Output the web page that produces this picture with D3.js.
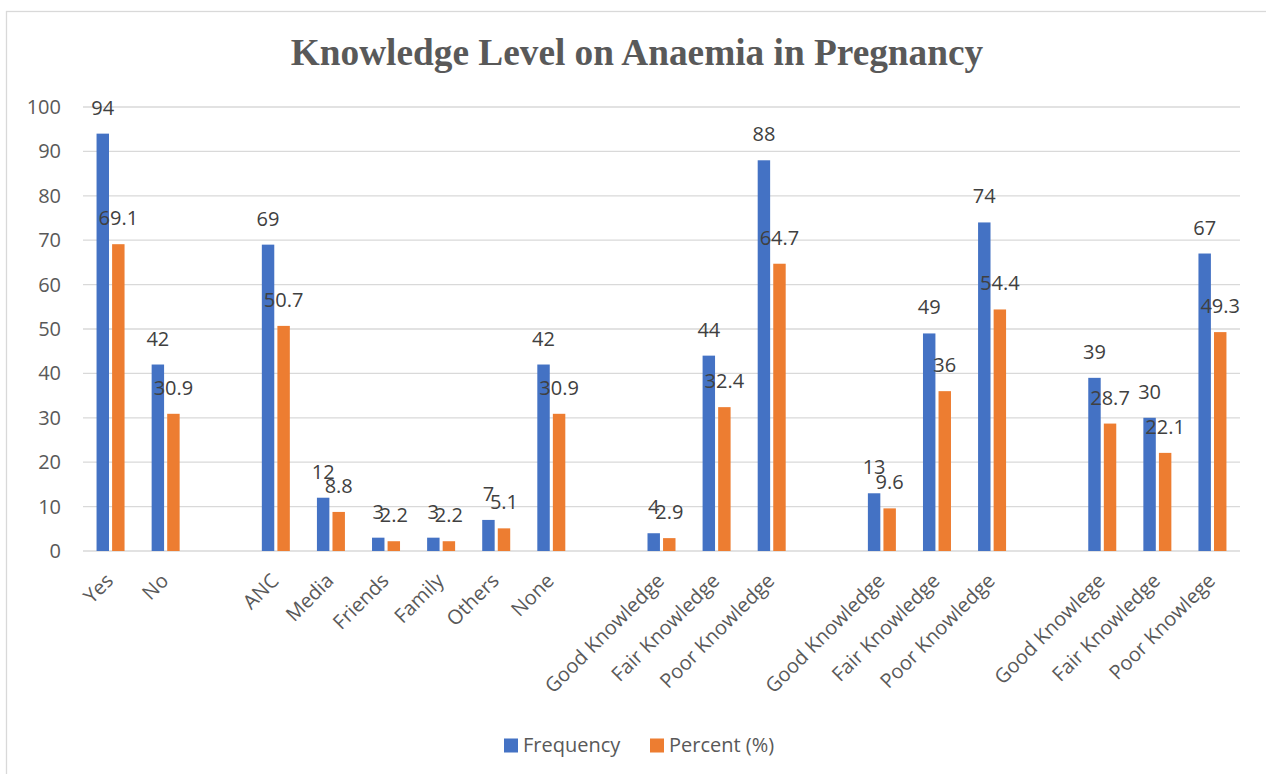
<!DOCTYPE html>
<html>
<head>
<meta charset="utf-8">
<style>
body { margin: 0; background: #fff; }
.grid line { stroke: #d9d9d9; stroke-width: 1.3; }
.tick text { font-family: "Open Sans", sans-serif; font-size: 20px; fill: #595959; }
.lbl { font-family: "Open Sans", sans-serif; font-size: 20px; fill: #404040; text-anchor: middle; }
.legend text { font-family: "Open Sans", sans-serif; font-size: 20px; fill: #595959; }
</style>
</head>
<body>
<svg width="1266" height="774"></svg>
<script src="https://d3js.org/d3.v7.min.js"></script>
<script>
// categories, null = empty slot between groups
var categories = ["Yes", "No", null,
  "ANC", "Media", "Friends", "Family", "Others", "None", null,
  "Good Knowledge", "Fair Knowledge", "Poor Knowledge", null,
  "Good Knowledge", "Fair Knowledge", "Poor Knowledge", null,
  "Good Knowlege", "Fair Knowledge", "Poor Knowlege"];
var frequency = [94, 42, null, 69, 12, 3, 3, 7, 42, null, 4, 44, 88, null, 13, 49, 74, null, 39, 30, 67];
var percent = [69.1, 30.9, null, 50.7, 8.8, 2.2, 2.2, 5.1, 30.9, null, 2.9, 32.4, 64.7, null, 9.6, 36, 54.4, null, 28.7, 22.1, 49.3];
var seriesNames = ["Frequency", "Percent (%)"];
var colors = ["#4472C4", "#ED7D31"];
var yTicks = [0, 10, 20, 30, 40, 50, 60, 70, 80, 90, 100];

var svg = d3.select("svg");

// chart border
svg.append("rect")
    .attr("x", 6.5).attr("y", 11.5)
    .attr("width", 1280).attr("height", 800)
    .attr("fill", "#fff")
    .attr("stroke", "#d9d9d9").attr("stroke-width", 1.3);

svg.append("text")
    .attr("x", 637).attr("y", 65)
    .attr("text-anchor", "middle")
    .attr("font-family", "Liberation Serif, Times New Roman, serif")
    .attr("font-weight", "bold")
    .attr("font-size", 37.3)
    .attr("fill", "#595959")
    .text("Knowledge Level on Anaemia in Pregnancy");

var plotLeft = 83, plotRight = 1240, plotTop = 107, plotBottom = 551;

var x = d3.scaleBand()
    .domain(d3.range(categories.length))
    .range([plotLeft, plotRight]);

var xs = d3.scaleBand()
    .domain([0, 1])
    .range([x.bandwidth() / 2 - 14, x.bandwidth() / 2 + 14])
    .paddingInner(0.2);

var y = d3.scaleLinear().domain([0, 100]).range([plotBottom, plotTop]);

// gridlines
svg.append("g").attr("class", "grid")
  .selectAll("line")
  .data(yTicks)
  .enter().append("line")
    .attr("x1", plotLeft).attr("x2", plotRight)
    .attr("y1", function(d) { return y(d); })
    .attr("y2", function(d) { return y(d); });

// y axis
var yAxis = svg.append("g")
    .attr("transform", "translate(" + (plotLeft - 14) + ",0)")
    .call(d3.axisLeft(y).tickValues(yTicks).tickSize(0).tickPadding(8));
yAxis.select(".domain").remove();

// bars
var series = [frequency, percent];
series.forEach(function(vals, si) {
  var data = vals.map(function(v, i) { return {i: i, v: v}; })
    .filter(function(d) { return d.v != null; });

  svg.append("g").selectAll("rect")
    .data(data)
    .enter().append("rect")
      .attr("x", function(d) { return x(d.i) + xs(si); })
      .attr("width", xs.bandwidth())
      .attr("y", function(d) { return y(d.v); })
      .attr("height", function(d) { return y(0) - y(d.v); })
      .attr("fill", colors[si]);
});

// labels drawn after all bars so they sit on top
series.forEach(function(vals, si) {
  var data = vals.map(function(v, i) { return {i: i, v: v}; })
    .filter(function(d) { return d.v != null; });

  svg.append("g").selectAll("text")
    .data(data)
    .enter().append("text")
      .attr("class", "lbl")
      .attr("x", function(d) { return x(d.i) + xs(si) + xs.bandwidth() / 2; })
      .attr("y", function(d) { return y(d.v) - 19; })
      .text(function(d) { return d.v; });
});

// category labels
svg.append("g").selectAll("text")
  .data(categories.map(function(c, i) { return {i: i, c: c}; }).filter(function(d) { return d.c; }))
  .enter().append("text")
    .attr("transform", function(d) {
      return "translate(" + (x(d.i) + x.bandwidth() / 2 + 4) + "," + (plotBottom + 31) + ") rotate(-45)";
    })
    .attr("text-anchor", "end")
    .attr("font-family", "Open Sans, sans-serif")
    .attr("font-size", 20)
    .attr("fill", "#595959")
    .text(function(d) { return d.c; });

// legend
var legend = svg.append("g").attr("class", "legend");
var legendX = [504, 650];
seriesNames.forEach(function(name, si) {
  legend.append("rect")
    .attr("x", legendX[si]).attr("y", 738.5)
    .attr("width", 14).attr("height", 14)
    .attr("fill", colors[si]);
  legend.append("text")
    .attr("x", legendX[si] + 19).attr("y", 752)
    .text(name);
});
</script>
</body>
</html>
